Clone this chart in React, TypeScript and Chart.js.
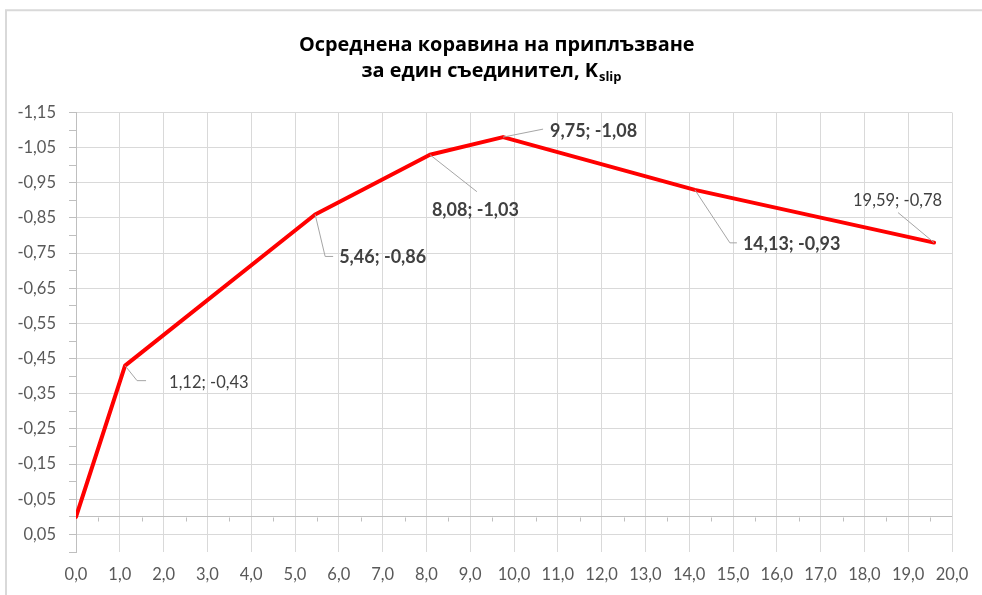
import React, { useEffect, useRef } from 'react';
import { Chart, registerables } from 'chart.js';

Chart.register(...registerables);

// ---- text ----
const titleLine1 = 'Осреднена коравина на приплъзване';
const titleLine2 = 'за един съединител, K';
const titleSub = 'slip';

// ---- data ----
const xValues = [0, 1.12, 5.46, 8.08, 9.75, 14.13, 19.59];
const yValues = [0, -0.43, -0.86, -1.03, -1.08, -0.93, -0.78];

// ---- axes ----
const yMin = -1.15;
const yMax = 0.1;
const yMinorStep = 0.05;
const xMin = 0;
const xMax = 20;
const xMinorStep = 0.5;

// ---- label layout (pixel offsets from each point; styles) ----
const labelLayout: ({ dx: number; dy: number; bold: boolean; leader: number[][] } | null)[] = [
  null,
  { dx: 44, dy: 17, bold: false, leader: [[12, 15], [21, 15]] },
  { dx: 24, dy: 43, bold: true, leader: [[10, 42], [18, 42]] },
  { dx: 2, dy: 55, bold: true, leader: [[47, 37]] },
  { dx: 47, dy: -6, bold: true, leader: [[40, -8]] },
  { dx: 48, dy: 54, bold: true, leader: [[35, 53], [42, 53]] },
  { dx: -81, dy: -42, bold: false, leader: [[-36, -30]] },
];

const fmt = (v: number, d: number) => v.toFixed(d).replace('.', ',');
const round = (v: number) => Math.round(v * 1000) / 1000;

const AXIS_FONT = 'Lato';
const GRID = '#d9d9d9';
const AXIS = '#bfbfbf';

const framePlugin = {
  id: 'frame',
  beforeDraw(chart: any) {
    const ctx = chart.ctx;
    ctx.save();
    ctx.fillStyle = '#ffffff';
    ctx.fillRect(0, 0, chart.width, chart.height);
    ctx.strokeStyle = '#d9d9d9';
    ctx.lineWidth = 2;
    ctx.beginPath();
    ctx.moveTo(6, chart.height + 2);
    ctx.lineTo(6, 10.3);
    ctx.lineTo(chart.width + 2, 10.3);
    ctx.stroke();
    ctx.restore();
  },
};

const titlePlugin = {
  id: 'customTitle',
  afterDraw(chart: any) {
    const ctx = chart.ctx;
    ctx.save();
    const base = 20;
    ctx.font = `bold ${base}px "Open Sans"`;
    const w1 = ctx.measureText(titleLine1).width;
    const size = (base * 396) / w1;
    const font = `bold ${size}px "Open Sans"`;
    const subFont = `bold ${size * 0.65}px "Open Sans"`;
    ctx.fillStyle = '#000000';
    ctx.textBaseline = 'alphabetic';
    ctx.textAlign = 'left';
    ctx.font = font;
    ctx.fillText(titleLine1, 497 - w1 * (size / base) / 2, 50.7);
    const w2 = ctx.measureText(titleLine2).width;
    ctx.font = subFont;
    const ws = ctx.measureText(titleSub).width;
    const start = 491 - (w2 + ws) / 2;
    ctx.font = font;
    ctx.fillText(titleLine2, start, 77);
    ctx.font = subFont;
    ctx.fillText(titleSub, start + w2 + 1, 77 + size * 0.22);
    ctx.restore();
  },
};

const axisPlugin = {
  id: 'zeroAxisTicks',
  beforeDatasetsDraw(chart: any) {
    const ctx = chart.ctx;
    const xs = chart.scales.x;
    const ys = chart.scales.y;
    const y0 = Math.round(ys.getPixelForValue(0)) + 0.5;
    ctx.save();
    ctx.strokeStyle = AXIS;
    ctx.lineWidth = 1;
    ctx.beginPath();
    for (let v = xMin + xMinorStep; v <= xMax + 1e-9; v += 2 * xMinorStep) {
      const px = Math.round(xs.getPixelForValue(v)) + 0.5;
      ctx.moveTo(px, y0);
      ctx.lineTo(px, y0 + 4);
    }
    ctx.stroke();
    ctx.restore();
  },
};

const labelPlugin = {
  id: 'pointLabels',
  afterDatasetsDraw(chart: any) {
    const ctx = chart.ctx;
    const xs = chart.scales.x;
    const ys = chart.scales.y;
    ctx.save();
    xValues.forEach((xv, i) => {
      const lay = labelLayout[i];
      if (!lay) return;
      const px = xs.getPixelForValue(xv);
      const py = ys.getPixelForValue(yValues[i]);
      ctx.strokeStyle = '#a6a6a6';
      ctx.lineWidth = 1;
      ctx.beginPath();
      ctx.moveTo(px, py);
      lay.leader.forEach(([dx, dy]) => ctx.lineTo(px + dx, py + dy));
      ctx.stroke();
      ctx.font = lay.bold ? `bold 18px ${AXIS_FONT}` : `16.5px ${AXIS_FONT}`;
      ctx.fillStyle = '#404040';
      ctx.textAlign = 'left';
      ctx.textBaseline = 'middle';
      ctx.fillText(`${fmt(xv, 2)}; ${fmt(yValues[i], 2)}`, px + lay.dx, py + lay.dy);
    });
    ctx.restore();
  },
};

export default function App() {
  const ref = useRef<HTMLCanvasElement | null>(null);

  useEffect(() => {
    if (!ref.current) return;
    const points = xValues.map((x, i) => ({ x, y: yValues[i] }));
    const chart = new Chart(ref.current, {
      type: 'line',
      data: {
        datasets: [
          {
            data: points,
            borderColor: '#ff0000',
            backgroundColor: '#ff0000',
            borderWidth: 4,
            pointRadius: 0,
            pointHoverRadius: 0,
            tension: 0,
            borderJoinStyle: 'round',
            borderCapStyle: 'round',
            fill: false,
          },
        ],
      },
      options: {
        animation: false,
        responsive: false,
        devicePixelRatio: 1,
        events: [],
        layout: { padding: { top: 112.5, right: 30, left: 0, bottom: 0 } },
        plugins: {
          legend: { display: false },
          title: { display: false },
          tooltip: { enabled: false },
        },
        scales: {
          x: {
            type: 'linear',
            min: xMin,
            max: xMax,
            afterBuildTicks: (scale: any) => {
              const t = [];
              for (let v = xMin; v <= xMax + 1e-9; v += xMinorStep) t.push({ value: round(v) });
              scale.ticks = t;
            },
            afterFit: (scale: any) => {
              scale.height = 43;
            },
            ticks: {
              autoSkip: false,
              maxRotation: 0,
              minRotation: 0,
              padding: 13,
              color: '#595959',
              font: { family: AXIS_FONT, size: 16.5 },
              callback: (v: any) => (Math.abs(v - Math.round(v)) < 1e-9 ? fmt(Number(v), 1) : ''),
            },
            grid: {
              drawTicks: false,
              lineWidth: 1,
              color: (c: any) => {
                const v = c.tick ? c.tick.value : 0;
                return Math.abs(v - Math.round(v)) < 1e-9 ? GRID : 'rgba(0,0,0,0)';
              },
            },
            border: { display: false },
          },
          y: {
            type: 'linear',
            reverse: true,
            min: yMin,
            max: yMax,
            afterBuildTicks: (scale: any) => {
              const t = [];
              for (let i = 0; round(yMin + i * yMinorStep) <= yMax + 1e-9; i++) t.push({ value: round(yMin + i * yMinorStep) });
              scale.ticks = t;
            },
            afterFit: (scale: any) => {
              scale.width = 76;
            },
            ticks: {
              autoSkip: false,
              padding: 13,
              color: '#595959',
              font: { family: AXIS_FONT, size: 16.5 },
              callback: (v: any, i: number) => (i % 2 === 0 ? fmt(Number(v), 2) : ''),
            },
            grid: {
              drawTicks: true,
              tickLength: 7,
              lineWidth: 1,
              color: (c: any) => {
                const i = c.index;
                const v = c.tick ? c.tick.value : 1;
                if (Math.abs(v) < 1e-9) return AXIS;
                return i % 2 === 0 ? GRID : 'rgba(0,0,0,0)';
              },
              tickColor: AXIS,
            },
            border: { display: true, color: AXIS, width: 1 },
          },
        },
      },
      plugins: [framePlugin, axisPlugin, labelPlugin, titlePlugin],
    } as any);
    return () => chart.destroy();
  }, []);

  return (
    <div style={{ position: 'absolute', left: 0, top: 0, width: 982, height: 595, background: '#ffffff', overflow: 'hidden' }}>
      <canvas ref={ref} width={982} height={595} style={{ display: 'block' }} />
    </div>
  );
}
